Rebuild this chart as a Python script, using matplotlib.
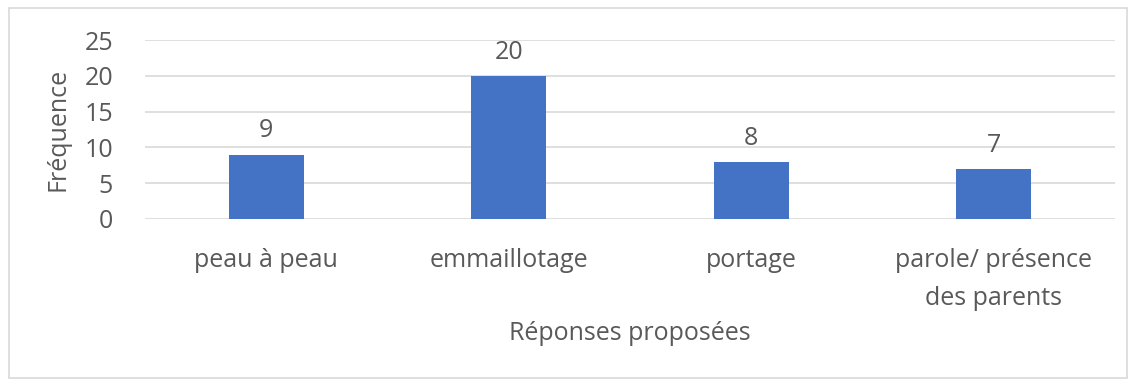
import matplotlib.pyplot as plt
from matplotlib.patches import Rectangle

# data
categories = ['peau à peau', 'emmaillotage', 'portage', 'parole/ présence\ndes parents']
values = [9, 20, 8, 7]
yticks = [0, 5, 10, 15, 20, 25]

grey = '#595959'
plt.rcParams['font.family'] = ['Open Sans', 'DejaVu Sans']

fig = plt.figure(figsize=(11.36, 3.85), dpi=100)
ax = fig.add_axes([145/1136, 1 - 219/385, 970/1136, 179/385])

x = range(len(categories))
bars = ax.bar(x, values, width=0.31, color='#4472C4', zorder=3)
ax.bar_label(bars, padding=8, fontsize=18, color=grey)

ax.set_xlim(-0.5, len(categories) - 0.5)
ax.set_ylim(0, 25)
ax.set_yticks(yticks)
ax.set_xticks(list(x))
ax.set_xticklabels(categories, linespacing=1.7)
ax.tick_params(axis='both', length=0, labelsize=18, labelcolor=grey)
ax.tick_params(axis='x', pad=21)
ax.tick_params(axis='y', pad=23)
ax.grid(axis='y', color='#D9D9D9', linewidth=1.2, zorder=0)
for s in ax.spines.values():
    s.set_visible(False)

ax.set_xlabel('Réponses proposées', fontsize=18, color=grey, labelpad=7)
ax.set_ylabel('Fréquence', fontsize=18, color=grey, labelpad=10)

# outer chart border
fig.patches.append(Rectangle((9/1136, 7/385), 1118/1136, 370/385, transform=fig.transFigure,
                             fill=False, edgecolor='#D9D9D9', linewidth=1.2))

fig.savefig('out.png', dpi=100)
